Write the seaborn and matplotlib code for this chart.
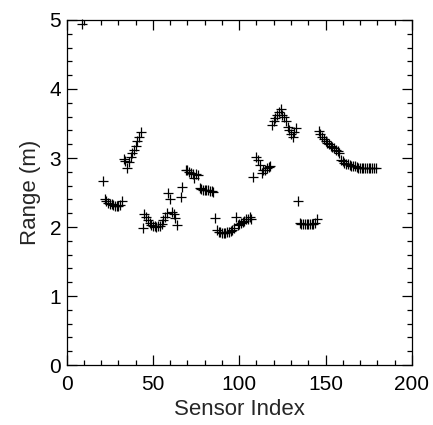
import numpy as np
import pandas as pd
import matplotlib
matplotlib.use('Agg')
import matplotlib.pyplot as plt
import seaborn as sns
from matplotlib.ticker import MultipleLocator

sensor_idx = [9,
              21, 22, 23, 24, 25, 26, 27, 28, 29, 30, 31, 32,
              33, 34, 35, 36, 37, 38, 39, 40, 41, 42, 43,
              44, 45, 46, 47, 48, 49, 50, 51, 52, 53, 54, 55, 56, 57, 58,
              59, 60, 61, 62, 63, 64, 66, 67,
              69, 70, 71, 72, 73, 74, 75, 76,
              77, 78, 79, 80, 81, 82, 83, 84, 85, 86,
              87, 88, 89, 90, 91, 92, 93, 94, 95, 96, 97,
              98, 99, 100, 101, 102, 103, 104, 105, 106, 107,
              108, 110, 111, 112, 113, 114, 115, 116, 117, 118,
              119, 120, 121, 122, 123, 124, 125, 126, 127, 128, 129, 130, 131, 132, 133,
              134, 135, 136, 137, 138, 139, 140, 141, 142, 143, 144, 145,
              146, 147, 148, 149, 150, 151, 152, 153, 154, 155, 156, 157, 158,
              159, 160, 161, 162, 163, 164, 165, 166, 167, 168, 169, 170,
              171, 172, 173, 174, 175, 176, 177, 178, 179]
range_m = [4.94,
           2.66, 2.40, 2.37, 2.35, 2.34, 2.33, 2.32, 2.31, 2.31, 2.31, 2.32, 2.38,
           2.98, 2.96, 2.86, 2.94, 3.02, 3.07, 3.12, 3.18, 3.24, 3.30, 3.37,
           1.99, 2.19, 2.14, 2.10, 2.06, 2.03, 2.02, 2.01, 2.00, 2.01, 2.02, 2.05, 2.10, 2.14, 2.20,
           2.50, 2.41, 2.22, 2.19, 2.13, 2.03, 2.44, 2.58,
           2.83, 2.82, 2.80, 2.78, 2.77, 2.71, 2.77, 2.75,
           2.56, 2.55, 2.54, 2.54, 2.53, 2.53, 2.52, 2.52, 2.51, 2.13,
           1.95, 1.93, 1.93, 1.92, 1.92, 1.92, 1.93, 1.93, 1.94, 1.96, 1.99,
           2.15, 2.03, 2.05, 2.06, 2.08, 2.09, 2.11, 2.12, 2.15, 2.11,
           2.72, 3.01, 2.97, 2.90, 2.79, 2.82, 2.83, 2.85, 2.87, 2.89,
           3.48, 3.54, 3.58, 3.62, 3.67, 3.71, 3.63, 3.60, 3.53, 3.45, 3.41, 3.35, 3.31, 3.38, 3.44,
           2.37, 2.06, 2.05, 2.05, 2.04, 2.04, 2.04, 2.04, 2.05, 2.05, 2.06, 2.12,
           3.39, 3.35, 3.31, 3.28, 3.25, 3.22, 3.20, 3.18, 3.16, 3.14, 3.12, 3.10, 3.07,
           2.97, 2.95, 2.93, 2.92, 2.91, 2.90, 2.89, 2.88, 2.88, 2.87, 2.86, 2.86,
           2.85, 2.85, 2.85, 2.85, 2.85, 2.85, 2.85, 2.86, 2.85]

df = pd.DataFrame({'Sensor Index': sensor_idx, 'Range (m)': range_m})

sns.set_style('ticks')
plt.rcParams['font.family'] = ['Liberation Sans', 'DejaVu Sans']

fig = plt.figure(figsize=(4.33, 4.25), dpi=100)
ax = fig.add_axes([0.154, 0.141, 0.797, 0.812])
sns.scatterplot(data=df, x='Sensor Index', y='Range (m)', marker='+',
                color='black', s=45, linewidth=0.9, ax=ax, clip_on=False,
                zorder=3)

ax.set_xlim(0, 200)
ax.set_ylim(0, 5)
ax.xaxis.set_major_locator(MultipleLocator(50))
ax.xaxis.set_minor_locator(MultipleLocator(10))
ax.yaxis.set_major_locator(MultipleLocator(1))
ax.yaxis.set_minor_locator(MultipleLocator(0.2))
ax.tick_params(which='both', direction='in', top=True, right=True,
               labelsize=15, width=0.9, colors='black')
ax.tick_params(which='major', length=7)
ax.tick_params(axis='x', which='major', pad=7)
ax.tick_params(axis='y', which='major', pad=4)
ax.tick_params(which='minor', length=3.5)
for sp in ax.spines.values():
    sp.set_linewidth(0.9)
    sp.set_color('black')
ax.set_xlabel('Sensor Index', fontsize=16, labelpad=4)
ax.set_ylabel('Range (m)', fontsize=16, labelpad=6)

fig.savefig('out.png', dpi=100)
